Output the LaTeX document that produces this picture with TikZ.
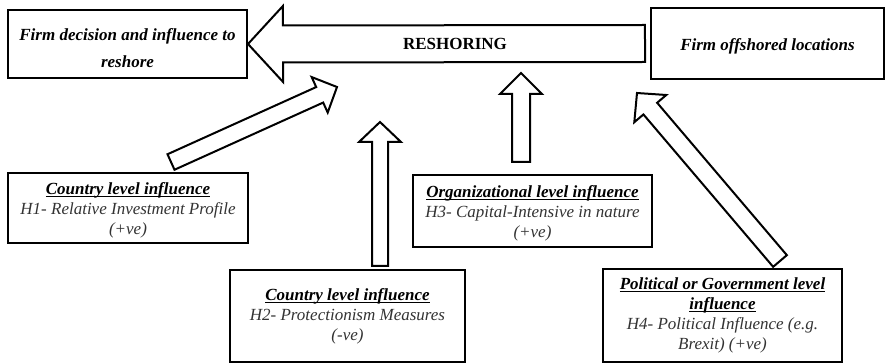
\documentclass[tikz,border=0pt]{standalone}
\usepackage{fontspec}
\setmainfont{Liberation Serif}
\usetikzlibrary{calc}
\newlength\ulwidth
\newcommand\myul[1]{\settowidth{\ulwidth}{#1}\rlap{\rule[-2.6pt]{\ulwidth}{1pt}}#1}
% block arrow: #1 from, #2 tip, #3 shaft half width, #4 head half width, #5 head length
\newcommand\blockarr[5]{%
  \coordinate (bH) at ($(#2)!#5!(#1)$);
  \draw[blk] ($(#1)!#3!90:(#2)$) -- ($(bH)!#3!90:(#2)$) -- ($(bH)!#4!90:(#2)$) -- (#2)
    -- ($(bH)!#4!-90:(#2)$) -- ($(bH)!#3!-90:(#2)$) -- ($(#1)!#3!-90:(#2)$) -- cycle;}
\begin{document}
\begin{tikzpicture}[x=1pt,y=-1pt,
  box/.style={draw=black, line width=2pt, fill=white, inner sep=0pt, align=center,
    font=\fontsize{17}{20}\selectfont\itshape},
  titlebox/.style={box, font=\fontsize{17}{27}\selectfont\bfseries\itshape},
  blk/.style={draw=black, line width=2pt, fill=white, line join=miter}]
\useasboundingbox[fill=white] (0,0) rectangle (887,363);

% boxes
\node[titlebox, minimum width=239pt, minimum height=68pt] (A) at (127.5,44)
  {\rule{0pt}{21pt}Firm decision and influence to\\reshore};
\node[titlebox, minimum width=233pt, minimum height=71pt] (B) at (767.5,43.5)
  {\rule{0pt}{18pt}Firm offshored locations};
\node[box, minimum width=240pt, minimum height=70pt] (C) at (128,208)
  {\rule{0pt}{17pt}\myul{\bfseries Country level influence}\\
   \textcolor{black!80}{H1- Relative Investment Profile}\\
   \textcolor{black!80}{(+ve)}};
\node[box, minimum width=239pt, minimum height=72pt] (D) at (532.5,211)
  {\rule{0pt}{16pt}\myul{\bfseries Organizational level influence}\\
   \textcolor{black!80}{H3- Capital-Intensive in nature}\\
   \textcolor{black!80}{(+ve)}};
\node[box, minimum width=235pt, minimum height=92pt] (E) at (347.5,316)
  {\myul{\bfseries Country level influence}\\
   \textcolor{black!80}{H2- Protectionism Measures}\\
   \textcolor{black!80}{(-ve)}};
\node[box, minimum width=239pt, minimum height=93pt] (F) at (722.5,315.5)
  {\myul{\bfseries Political or Government level}\\
   \myul{\bfseries influence}\\
   \textcolor{black!80}{H4- Political Influence (e.g.}\\
   \textcolor{black!80}{Brexit) (+ve)}};

% arrow end points
\coordinate (rsBase) at ($(B.west)+(-5,0)$);
\coordinate (rsTip) at (A.east);
\coordinate (a1s) at (171,162);
\coordinate (a1e) at (337,87);
\coordinate (a2s) at (380,266);
\coordinate (a2e) at (380,122);
\coordinate (a3s) at (521,162);
\coordinate (a3e) at (521,73);
\coordinate (a4s) at (780,261);
\coordinate (a4e) at (637,93);

% arrows
\blockarr{rsBase}{rsTip}{18.5pt}{38pt}{35pt}
\node[font=\fontsize{17}{17}\selectfont\bfseries] (RS) at (455,44) {RESHORING};
\blockarr{a1s}{a1e}{8.5pt}{19.5pt}{19pt}
\blockarr{a2s}{a2e}{8pt}{21pt}{20pt}
\blockarr{a3s}{a3e}{9pt}{21pt}{21pt}
\blockarr{a4s}{a4e}{9pt}{21pt}{20.5pt}
\end{tikzpicture}
\end{document}
